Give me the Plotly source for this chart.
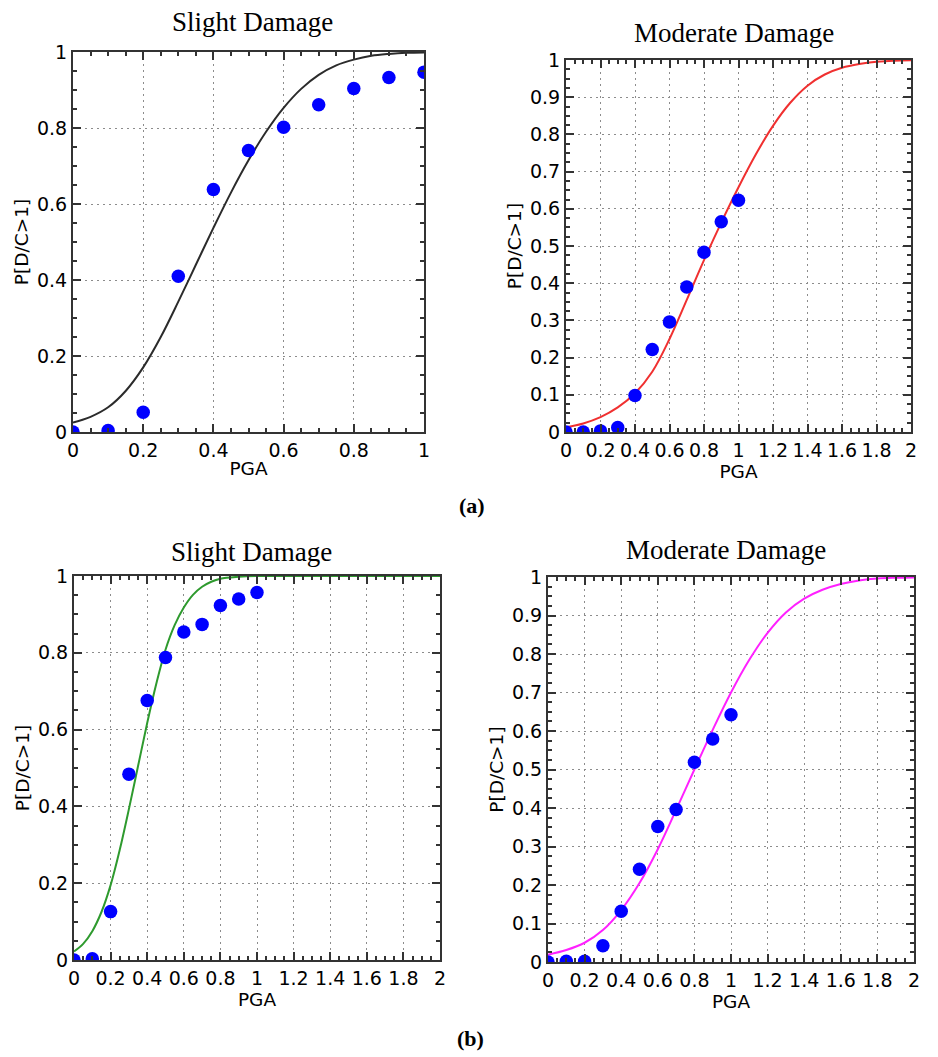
import plotly.graph_objects as go

# ---------------- data ----------------
pga_pts = [0.0, 0.1, 0.2, 0.3, 0.4, 0.5, 0.6, 0.7, 0.8, 0.9, 1.0]

# (a) Slight damage
a_slight_obs = [0.0, 0.004, 0.052, 0.41, 0.638, 0.741, 0.802, 0.861, 0.904, 0.933, 0.947]
a_slight_cx = [0.0, 0.05, 0.1, 0.15, 0.2, 0.25, 0.3, 0.35, 0.4, 0.45, 0.5, 0.55, 0.6, 0.65,
               0.7, 0.75, 0.8, 0.85, 0.9, 0.95, 1.0]
a_slight_cy = [0.025, 0.04, 0.065, 0.108, 0.17, 0.25, 0.343, 0.44, 0.537, 0.63, 0.715, 0.79,
               0.853, 0.903, 0.94, 0.965, 0.98, 0.99, 0.995, 0.998, 0.999]

# (a) Moderate damage
a_mod_obs = [0.0, 0.0, 0.003, 0.012, 0.098, 0.222, 0.296, 0.39, 0.483, 0.565, 0.623]
curve_x_2 = [0.0, 0.1, 0.2, 0.3, 0.4, 0.5, 0.6, 0.7, 0.8, 0.9, 1.0, 1.1, 1.2, 1.3, 1.4,
             1.5, 1.6, 1.7, 1.8, 1.9, 2.0]
a_mod_cy = [0.0125, 0.023, 0.04, 0.066, 0.104, 0.162, 0.25, 0.355, 0.462, 0.563, 0.658, 0.746,
            0.823, 0.885, 0.931, 0.961, 0.979, 0.989, 0.995, 0.998, 0.999]

# (b) Slight damage
b_slight_obs = [0.0, 0.003, 0.126, 0.484, 0.676, 0.788, 0.854, 0.874, 0.923, 0.94, 0.957]
b_slight_cx = [0.0, 0.05, 0.1, 0.15, 0.2, 0.25, 0.3, 0.35, 0.4, 0.45, 0.5, 0.55, 0.6, 0.65,
               0.7, 0.75, 0.8, 0.9, 1.0, 1.2, 1.4, 1.6, 1.8, 2.0]
b_slight_cy = [0.022, 0.042, 0.075, 0.125, 0.195, 0.287, 0.393, 0.505, 0.617, 0.72, 0.808,
               0.872, 0.918, 0.951, 0.972, 0.985, 0.993, 0.998, 1.0, 1.0, 1.0, 1.0, 1.0, 1.0]

# (b) Moderate damage
b_mod_obs = [0.0, 0.002, 0.002, 0.042, 0.132, 0.241, 0.352, 0.396, 0.519, 0.579, 0.642]
b_mod_cy = [0.019, 0.031, 0.05, 0.083, 0.135, 0.205, 0.293, 0.395, 0.5, 0.603, 0.7, 0.785,
            0.855, 0.908, 0.944, 0.967, 0.982, 0.991, 0.996, 0.998, 0.999]

panel_titles = ["Slight Damage", "Moderate Damage", "Slight Damage", "Moderate Damage"]
x_title = "PGA"
y_title = "P[D/C>1]"

# ---------------- figure ----------------
W, H = 938, 1057
fig = go.Figure()

panels = [
    dict(cx=a_slight_cx, cy=a_slight_cy, obs=a_slight_obs, color="#2b2b2b",
         xr=[0, 1], ydt=0.2, dom_px=(73, 424, 52, 432), title_px=(252, 22)),
    dict(cx=curve_x_2, cy=a_mod_cy, obs=a_mod_obs, color="#f03030",
         xr=[0, 2], ydt=0.1, dom_px=(566, 911, 60, 432), title_px=(734, 33)),
    dict(cx=b_slight_cx, cy=b_slight_cy, obs=b_slight_obs, color="#2e9a2e",
         xr=[0, 2], ydt=0.2, dom_px=(74, 440, 576, 960), title_px=(251, 552)),
    dict(cx=curve_x_2, cy=b_mod_cy, obs=b_mod_obs, color="#ff20ff",
         xr=[0, 2], ydt=0.1, dom_px=(548, 914, 577, 962), title_px=(726, 550)),
]

tick_font = dict(family="DejaVu Sans", size=19, color="black")
title_font = dict(family="DejaVu Sans", size=18.5, color="black")
axis_common = dict(
    showline=True, linecolor="#333333", linewidth=2, mirror="ticks",
    ticks="inside", ticklen=8, tickwidth=1.5, tickcolor="#333333",
    showgrid=True, gridcolor="#8c8c8c", griddash="2px,4px", gridwidth=1.2,
    zeroline=False, tickfont=tick_font, ticklabelstandoff=0,
)

annotations = []
for i, p in enumerate(panels, start=1):
    sfx = "" if i == 1 else str(i)
    x0, x1, y0, y1 = p["dom_px"]
    fig.add_trace(go.Scatter(
        x=p["cx"], y=p["cy"], mode="lines",
        line=dict(color=p["color"], width=2, shape="spline", smoothing=1.0),
        xaxis="x" + sfx, yaxis="y" + sfx, showlegend=False, hoverinfo="skip"))
    fig.add_trace(go.Scatter(
        x=pga_pts, y=p["obs"], mode="markers",
        marker=dict(color="#0000ff", size=13.5, line=dict(width=0)),
        xaxis="x" + sfx, yaxis="y" + sfx, showlegend=False))
    xdt = 0.2
    fig.update_layout(**{
        "xaxis" + sfx: dict(axis_common, domain=[x0 / W, x1 / W], range=p["xr"], dtick=xdt,
                            anchor="y" + sfx,
                            minor=dict(dtick=xdt / 4, ticks="inside", ticklen=4,
                                       tickcolor="#333333", showgrid=False),
                            title=dict(text=x_title, font=title_font, standoff=2)),
        "yaxis" + sfx: dict(axis_common, domain=[1 - y1 / H, 1 - y0 / H], range=[0, 1],
                            dtick=p["ydt"], anchor="x" + sfx,
                            minor=dict(dtick=p["ydt"] / 4, ticks="inside", ticklen=4,
                                       tickcolor="#333333", showgrid=False),
                            title=dict(text=y_title, font=title_font, standoff=4)),
    })
    tx, ty = p["title_px"]
    annotations.append(dict(text=panel_titles[i - 1], x=tx / W, y=1 - ty / H, xref="paper",
                            yref="paper", showarrow=False, xanchor="center", yanchor="middle",
                            font=dict(family="Liberation Serif", size=27, color="black")))

annotations.append(dict(text="<b>(a)</b>", x=472 / W, y=1 - 506 / H, xref="paper", yref="paper",
                        showarrow=False, xanchor="center", yanchor="middle",
                        font=dict(family="Liberation Serif", size=22, color="black")))
annotations.append(dict(text="<b>(b)</b>", x=470 / W, y=1 - 1038 / H, xref="paper", yref="paper",
                        showarrow=False, xanchor="center", yanchor="middle",
                        font=dict(family="Liberation Serif", size=22, color="black")))

fig.update_layout(
    width=W, height=H, margin=dict(l=0, r=0, t=0, b=0, autoexpand=False),
    paper_bgcolor="white", plot_bgcolor="white", annotations=annotations,
    showlegend=False,
)

fig.write_html("out.html")
